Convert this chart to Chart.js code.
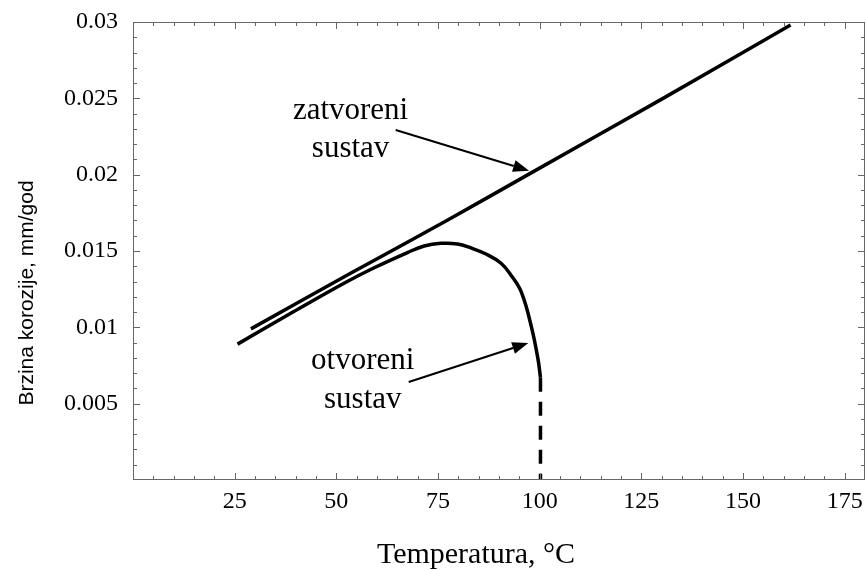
<!DOCTYPE html>
<html>
<head>
  <title>Brzina korozije</title>
  <style>
    body { margin: 0; background: #fff; }
    canvas { display: block; }
  </style>
</head>
<body>
  <canvas id="corrosionChart" width="866" height="570"></canvas>

  <script src="https://cdn.jsdelivr.net/npm/chart.js"></script>
  <script>
    // zatvoreni sustav (closed system)
    const closedTemp = [29, 53.5, 77.4, 97.8, 129.7, 161.7];
    const closedRate = [0.0099, 0.01354, 0.01703, 0.0201, 0.0249, 0.0298];

    // otvoreni sustav (open system)
    const openTemp = [25.7, 38.7, 52, 59.3, 67.5, 71.6, 75.7, 79.8, 83.1, 86.8, 90.5, 93, 95.5, 98, 99.6, 100.2];
    const openRate = [0.0089, 0.0109, 0.0129, 0.0139, 0.0149, 0.01533, 0.0155, 0.01546, 0.0152, 0.0148, 0.0142, 0.0134, 0.0123, 0.0100, 0.0079, 0.0067];

    // dashed drop at boiling point
    const boilTemp = [100.2, 100.2];
    const boilRate = [0.0067, 0];

    const xTicks = [25, 50, 75, 100, 125, 150, 175];
    const yTicks = [0.005, 0.01, 0.015, 0.02, 0.025, 0.03];

    const toPoints = (xs, ys) => xs.map((x, i) => ({ x: x, y: ys[i] }));

    // labels with arrows, in data units
    const notes = [
      { lines: ["zatvoreni", "sustav"], x: 53.5, y: [0.02365, 0.02116], from: [64.6, 0.02293], to: [97.4, 0.02026] },
      { lines: ["otvoreni", "sustav"], x: 56.5, y: [0.00727, 0.00472], from: [67.8, 0.00642], to: [97.2, 0.00897] }
    ];

    const serif = "'Liberation Serif', 'Times New Roman', serif";

    const framePlugin = {
      id: "frame",
      afterDraw(chart) {
        const ctx = chart.ctx;
        const a = chart.chartArea;
        const xs = chart.scales.x, ys = chart.scales.y;
        ctx.save();
        ctx.strokeStyle = "#666";
        ctx.lineWidth = 1;
        ctx.strokeRect(a.left + 0.5, a.top + 0.5, a.right - a.left - 1, a.bottom - a.top - 1);

        // inward ticks on all four sides
        ctx.beginPath();
        for (let v = 5; v < 180; v += 5) {
          const px = Math.round(xs.getPixelForValue(v)) + 0.5;
          const len = v % 25 === 0 ? 7 : 4;
          ctx.moveTo(px, a.bottom); ctx.lineTo(px, a.bottom - len);
          ctx.moveTo(px, a.top); ctx.lineTo(px, a.top + len);
        }
        for (let i = 1; i < 30; i++) {
          const py = Math.round(ys.getPixelForValue(i / 1000)) + 0.5;
          const len = i % 5 === 0 ? 7 : 4;
          ctx.moveTo(a.left, py); ctx.lineTo(a.left + len, py);
          ctx.moveTo(a.right, py); ctx.lineTo(a.right - len, py);
        }
        ctx.stroke();

        // annotations
        ctx.fillStyle = "#000";
        ctx.strokeStyle = "#000";
        ctx.font = "31px " + serif;
        ctx.textAlign = "center";
        ctx.textBaseline = "alphabetic";
        notes.forEach(n => {
          n.lines.forEach((t, i) => ctx.fillText(t, xs.getPixelForValue(n.x), ys.getPixelForValue(n.y[i])));
          const x0 = xs.getPixelForValue(n.from[0]), y0 = ys.getPixelForValue(n.from[1]);
          const x1 = xs.getPixelForValue(n.to[0]), y1 = ys.getPixelForValue(n.to[1]);
          const ang = Math.atan2(y1 - y0, x1 - x0);
          const head = 16, half = 6;
          ctx.lineWidth = 2;
          ctx.beginPath();
          ctx.moveTo(x0, y0);
          ctx.lineTo(x1 - head * Math.cos(ang), y1 - head * Math.sin(ang));
          ctx.stroke();
          ctx.beginPath();
          ctx.moveTo(x1, y1);
          ctx.lineTo(x1 - head * Math.cos(ang) + half * Math.sin(ang), y1 - head * Math.sin(ang) - half * Math.cos(ang));
          ctx.lineTo(x1 - head * Math.cos(ang) - half * Math.sin(ang), y1 - head * Math.sin(ang) + half * Math.cos(ang));
          ctx.closePath();
          ctx.fill();
        });

        // axis titles
        ctx.font = "30px " + serif;
        ctx.fillText("Temperatura, °C", 476, 563);
        ctx.save();
        ctx.translate(33, 293);
        ctx.rotate(-Math.PI / 2);
        ctx.font = "21px 'Liberation Sans', Arial, sans-serif";
        ctx.fillText("Brzina korozije, mm/god", 0, 0);
        ctx.restore();
        ctx.restore();
      }
    };

    const ctx = document.getElementById("corrosionChart").getContext("2d");
    new Chart(ctx, {
      type: "line",
      data: {
        datasets: [
          {
            label: "zatvoreni sustav",
            data: toPoints(closedTemp, closedRate),
            borderColor: "#000",
            borderWidth: 3.5,
            pointRadius: 0,
            tension: 0.2,
            fill: false
          },
          {
            label: "otvoreni sustav",
            data: toPoints(openTemp, openRate),
            borderColor: "#000",
            borderWidth: 3.5,
            pointRadius: 0,
            tension: 0.4,
            fill: false
          },
          {
            label: "vrenje",
            data: toPoints(boilTemp, boilRate),
            borderColor: "#000",
            borderWidth: 3.5,
            borderDash: [14, 10],
            pointRadius: 0,
            fill: false
          }
        ]
      },
      options: {
        responsive: false,
        animation: false,
        devicePixelRatio: 1,
        layout: { padding: { top: 22, right: 1, left: 0, bottom: 0 } },
        plugins: { legend: { display: false }, tooltip: { enabled: false } },
        scales: {
          x: {
            type: "linear",
            min: 0,
            max: 180,
            afterFit: s => { s.height = 90; s.paddingLeft = 0; s.paddingRight = 0; },
            afterBuildTicks: s => { s.ticks = xTicks.map(v => ({ value: v })); },
            grid: { display: false, drawTicks: false },
            border: { display: false },
            ticks: {
              padding: 7,
              color: "#000",
              font: { family: serif, size: 24 },
              callback: v => String(v)
            }
          },
          y: {
            min: 0,
            max: 0.03,
            afterFit: s => { s.width = 133; s.paddingTop = 0; s.paddingBottom = 0; },
            afterBuildTicks: s => { s.ticks = yTicks.map(v => ({ value: v })); },
            grid: { display: false, drawTicks: false },
            border: { display: false },
            ticks: {
              padding: 15,
              color: "#000",
              font: { family: serif, size: 24 },
              callback: v => String(+v.toFixed(3))
            }
          }
        }
      },
      plugins: [framePlugin]
    });
  </script>
</body>
</html>
